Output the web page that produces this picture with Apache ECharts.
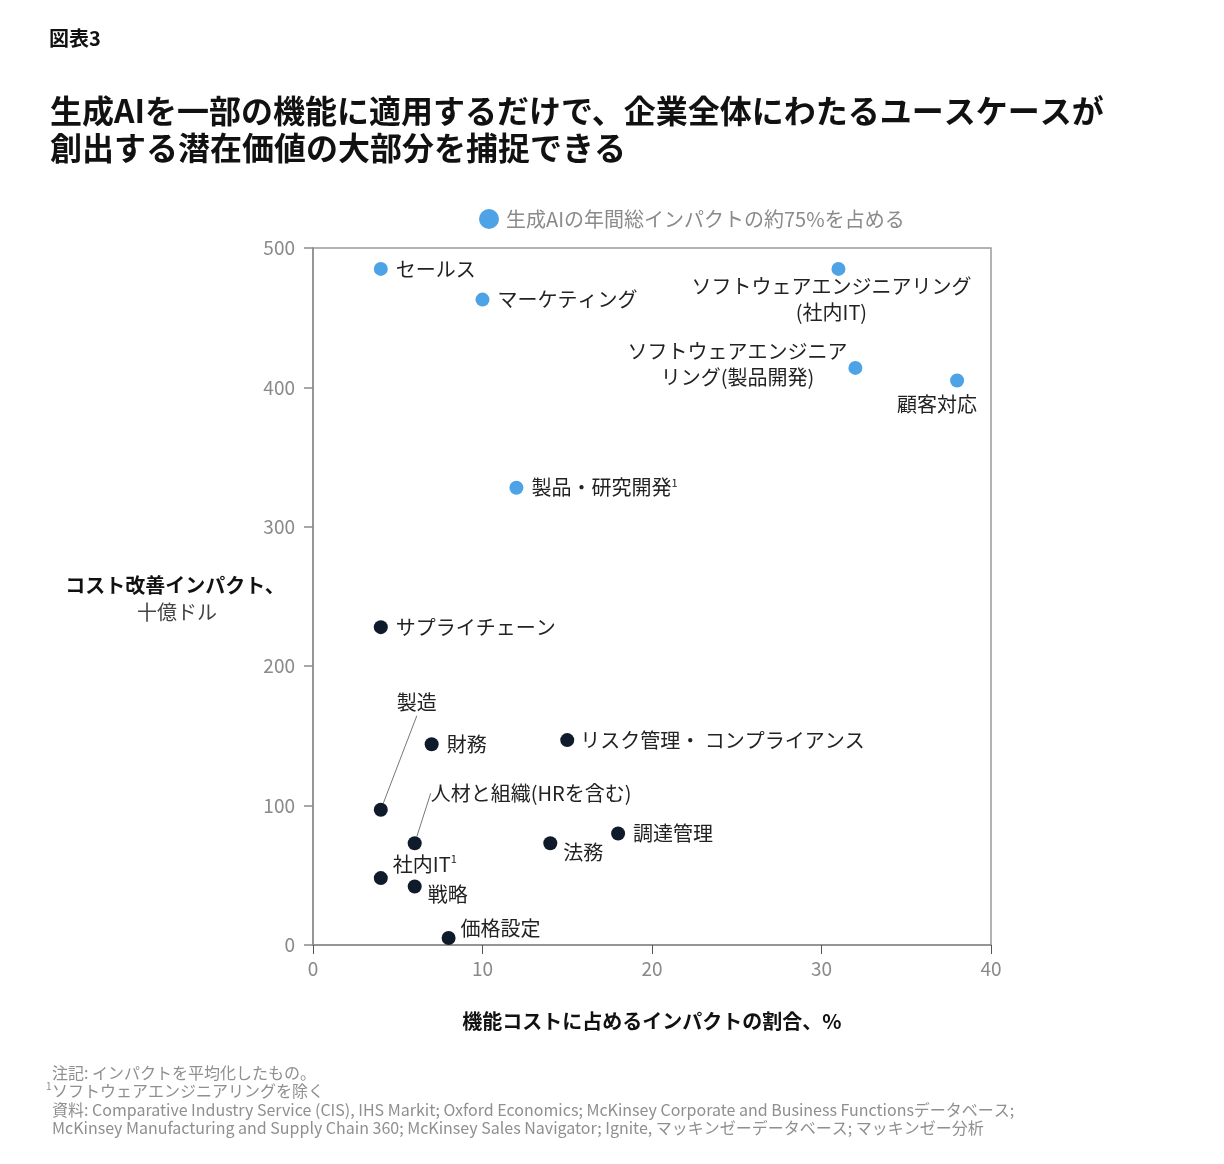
<!DOCTYPE html>
<html><head><meta charset="utf-8">
<script src="https://cdn.jsdelivr.net/npm/echarts@6/dist/echarts.min.js"></script>
<style>html,body{margin:0;padding:0;background:#fff}#c{width:1224px;height:1164px}</style>
</head><body><div id="c"></div>
<script>
// ---- data ----
const blueSeriesName = '生成AIの年間総インパクトの約75%を占める';
const blueNames = ['セールス', 'マーケティング', 'ソフトウェアエンジニアリング\n(社内IT)', 'ソフトウェアエンジニア\nリング(製品開発)', '顧客対応', '製品・研究開発'];
const blueX = [4, 10, 31, 32, 38, 12];
const blueY = [485, 463, 485, 414, 405, 328];

const darkNames = ['サプライチェーン', '財務', 'リスク管理・ コンプライアンス', '製造', '人材と組織(HRを含む)', '法務', '調達管理', '社内IT', '戦略', '価格設定'];
const darkX = [4, 7, 15, 4, 6, 14, 18, 4, 6, 8];
const darkY = [228, 144, 147, 97, 73, 73, 80, 48, 42, 5];

const xTicks = [0, 10, 20, 30, 40];
const yTicks = [0, 100, 200, 300, 400, 500];
const superscriptNames = ['製品・研究開発', '社内IT'];

// ---- label placement (styling only) ----
const FONT = '"Noto Sans CJK JP", "Noto Sans", sans-serif';
const labelPlace = {
  'セールス': {side: 'right'},
  'マーケティング': {side: 'right'},
  'ソフトウェアエンジニアリング\n(社内IT)': {align: 'center', off: [-7, 30]},
  'ソフトウェアエンジニア\nリング(製品開発)': {align: 'center', off: [-118, -3]},
  '顧客対応': {align: 'center', off: [-20, 24]},
  '製品・研究開発': {side: 'right'},
  'サプライチェーン': {side: 'right'},
  '財務': {side: 'right'},
  'リスク管理・ コンプライアンス': {side: 'right', dist: 6},
  '製造': {align: 'left', off: [16, -107], line: true},
  '人材と組織(HRを含む)': {align: 'left', off: [16, -50], line: true},
  '法務': {align: 'left', off: [13, 9]},
  '調達管理': {side: 'right'},
  '社内IT': {align: 'left', off: [12, -14]},
  '戦略': {align: 'left', off: [13, 8]},
  '価格設定': {align: 'left', off: [12, -10]}
};

function makeData(names, xs, ys) {
  return names.map((n, i) => {
    const p = labelPlace[n] || {side: 'right'};
    const sup = superscriptNames.indexOf(n) >= 0;
    const label = {
      show: true,
      formatter: sup ? '{t|' + n + '}{s|1}' : n,
      color: '#222',
      fontSize: 20,
      fontFamily: FONT,
      lineHeight: 26,
      rich: {
        t: {fontSize: 20, fontFamily: FONT, color: '#222'},
        s: {fontSize: 11, fontFamily: FONT, color: '#222', padding: [0, 0, 10, 0]}
      }
    };
    if (p.side === 'right') {
      label.position = 'right';
      label.distance = p.dist != null ? p.dist : 8;
    } else {
      label.position = ['50%', '50%'];
      label.align = p.align;
      label.verticalAlign = 'middle';
    }
    const item = {name: n, value: [xs[i], ys[i]], label: label};
    if (p.line) {
      item.labelLine = {show: true, lineStyle: {color: '#777', width: 1}, smooth: false};
    }
    return item;
  });
}

// label shifts relative to the point (pixels), applied through the library's label layout
function layoutFor(names) {
  return function (params) {
    const p = labelPlace[names[params.dataIndex]];
    if (p && p.off) return {dx: p.off[0], dy: p.off[1]};
    return {};
  };
}

const chart = echarts.init(document.getElementById('c'), null, {renderer: 'canvas'});
const axisGrey = '#8c8c8c';
chart.setOption({
  backgroundColor: '#fff',
  animation: false,
  textStyle: {fontFamily: FONT},
  title: [
    {text: '図表3', left: 44, top: 23, textStyle: {fontSize: 20, fontWeight: 'bold', color: '#111', fontFamily: FONT}},
    {text: '生成AIを一部の機能に適用するだけで、企業全体にわたるユースケースが\n創出する潜在価値の大部分を捕捉できる', left: 45, top: 87,
     textStyle: {fontSize: 32, fontWeight: 'bold', color: '#111', lineHeight: 37, fontFamily: FONT}}
  ],
  legend: {
    data: [blueSeriesName],
    left: 474, top: 204,
    icon: 'circle', itemWidth: 24, itemHeight: 20,
    textStyle: {fontSize: 20, color: '#8a8a8a', fontFamily: FONT},
    selectedMode: false
  },
  grid: {left: 313, right: 233, top: 248, bottom: 219, show: true, borderColor: '#9a9a9a', borderWidth: 1.5, containLabel: false},
  xAxis: {
    type: 'value', min: xTicks[0], max: xTicks[xTicks.length - 1], interval: 10,
    name: '機能コストに占めるインパクトの割合、%', nameLocation: 'middle', nameGap: 66,
    nameTextStyle: {fontSize: 20, fontWeight: 'bold', color: '#111', fontFamily: FONT},
    axisLine: {show: true, lineStyle: {color: axisGrey, width: 1.5}},
    axisTick: {show: true, inside: false, length: 9, lineStyle: {color: '#555', width: 1}},
    axisLabel: {fontSize: 19, color: '#8a8a8a', margin: 14, fontFamily: FONT},
    splitLine: {show: false}
  },
  yAxis: {
    type: 'value', min: yTicks[0], max: yTicks[yTicks.length - 1], interval: 100,
    axisLine: {show: true, lineStyle: {color: axisGrey, width: 1.5}},
    axisTick: {show: true, inside: false, length: 9, lineStyle: {color: axisGrey, width: 1.5}},
    axisLabel: {fontSize: 19, color: '#8a8a8a', margin: 18, fontFamily: FONT},
    splitLine: {show: false}
  },
  graphic: [
    {type: 'text', x: 175, y: 585, style: {text: 'コスト改善インパクト、', fill: '#111', font: 'bold 20px ' + FONT, textAlign: 'center', textVerticalAlign: 'middle'}},
    {type: 'text', x: 177, y: 612, style: {text: '十億ドル', fill: '#444', font: '20px ' + FONT, textAlign: 'center', textVerticalAlign: 'middle'}},
    {type: 'text', x: 52, y: 1073, style: {text: '注記: インパクトを平均化したもの。', fill: '#8f8f8f', font: '16px ' + FONT, textVerticalAlign: 'middle'}},
    {type: 'text', x: 46, y: 1086, style: {text: '1', fill: '#8f8f8f', font: '10px ' + FONT, textVerticalAlign: 'middle'}},
    {type: 'text', x: 52, y: 1091, style: {text: 'ソフトウェアエンジニアリングを除く', fill: '#8f8f8f', font: '16px ' + FONT, textVerticalAlign: 'middle'}},
    {type: 'text', x: 52, y: 1110, style: {text: '資料: Comparative Industry Service (CIS), IHS Markit; Oxford Economics; McKinsey Corporate and Business Functionsデータベース;', fill: '#8f8f8f', font: '16px ' + FONT, textVerticalAlign: 'middle'}},
    {type: 'text', x: 52, y: 1128, style: {text: 'McKinsey Manufacturing and Supply Chain 360; McKinsey Sales Navigator; Ignite, マッキンゼーデータベース; マッキンゼー分析', fill: '#8f8f8f', font: '16px ' + FONT, textVerticalAlign: 'middle'}}
  ],
  series: [
    {
      name: blueSeriesName, type: 'scatter', symbol: 'circle', symbolSize: 14,
      itemStyle: {color: '#4ea3e6', opacity: 1},
      emphasis: {disabled: true},
      labelLayout: layoutFor(blueNames),
      data: makeData(blueNames, blueX, blueY)
    },
    {
      name: 'その他', type: 'scatter', symbol: 'circle', symbolSize: 14,
      itemStyle: {color: '#0f1b2b', opacity: 1},
      emphasis: {disabled: true},
      labelLayout: layoutFor(darkNames),
      data: makeData(darkNames, darkX, darkY)
    }
  ]
});
</script></body></html>
